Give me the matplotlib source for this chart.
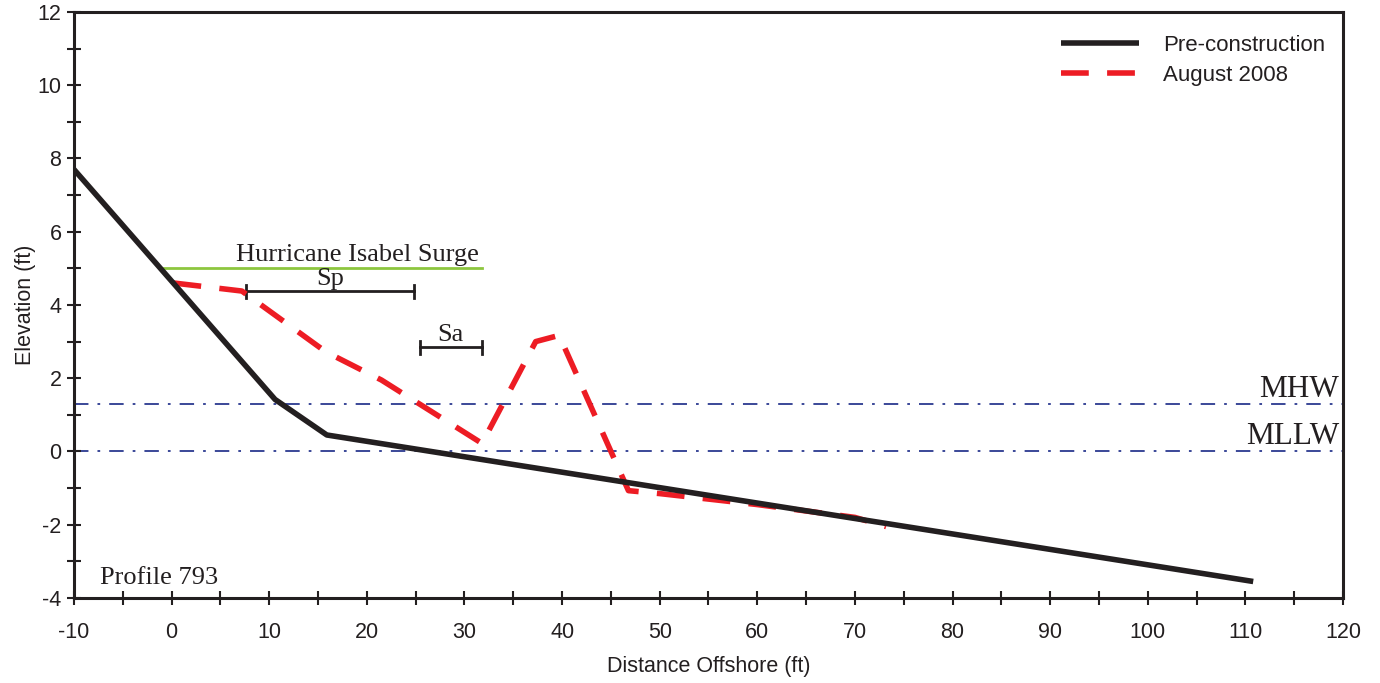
import numpy as np
import matplotlib
matplotlib.use("Agg")
import matplotlib.pyplot as plt
from matplotlib.ticker import MultipleLocator

plt.rcParams["font.family"] = "Liberation Sans"
plt.rcParams["axes.unicode_minus"] = False

# Pre-construction profile
pre_x = [-10, 10.6, 15.9, 110.8]
pre_y = [7.7, 1.42, 0.45, -3.55]

# August 2008 profile
aug_x = [0.2, 7.2, 15.8, 21.5, 31.8, 37.3, 39.7, 46.8, 50, 60, 70, 73.2]
aug_y = [4.6, 4.38, 2.72, 1.95, 0.22, 3.0, 3.17, -1.07, -1.15, -1.45, -1.8, -2.05]

# reference levels
surge_x = [-1.0, 31.8]
surge_y = 5.0
mhw = 1.3
mllw = 0.0

# sediment bars
sp_x = [7.6, 24.8]
sp_y = 4.37
sa_x = [25.4, 31.8]
sa_y = 2.84

fig = plt.figure(figsize=(13.8, 6.83), dpi=100)
ax = fig.add_axes([0.0536, 0.1245, 0.9196, 0.858])

blue = "#2b3990"
ax.axhline(mhw, color=blue, lw=1.3, ls=(0, (8, 5, 1.5, 5)), zorder=1)
ax.axhline(mllw, color=blue, lw=1.3, ls=(0, (8, 5, 1.5, 5)), zorder=1)

ax.plot(surge_x, [surge_y, surge_y], color="#8dc63f", lw=2, zorder=2)
ax.text(19.0, surge_y + 0.06, "Hurricane Isabel Surge",
        family="Liberation Serif", fontsize=19, color="#231f20", ha="center", va="bottom")

for bx, by, lab in [(sp_x, sp_y, "Sp"), (sa_x, sa_y, "Sa")]:
    ax.plot(bx, [by, by], color="#231f20", lw=2, zorder=3)
    for xx in bx:
        ax.plot([xx, xx], [by - 0.17, by + 0.17], color="#231f20", lw=2, zorder=3)
    ax.text(np.mean(bx), by + 0.05, lab, family="Liberation Serif", fontsize=19,
            color="#231f20", ha="center", va="bottom")

ax.plot(pre_x, pre_y, color="#231f20", lw=4, solid_capstyle="butt", zorder=5,
        label="Pre-construction")
ax.plot(aug_x, aug_y, color="#ed1c24", lw=4, ls=(0, (5, 3.3)), zorder=4,
        label="August 2008")

ax.text(119.6, mhw + 0.0, "MHW", family="Liberation Serif", fontsize=22.5,
        color="#231f20", ha="right", va="bottom")
ax.text(119.6, mllw + 0.0, "MLLW", family="Liberation Serif", fontsize=22.5,
        color="#231f20", ha="right", va="bottom")
ax.text(-7.3, -3.75, "Profile 793", family="Liberation Serif", fontsize=19,
        color="#231f20", ha="left", va="bottom")

ax.set_xlim(-10, 120)
ax.set_ylim(-4, 12)
ax.xaxis.set_major_locator(MultipleLocator(10))
ax.xaxis.set_minor_locator(MultipleLocator(5))
ax.yaxis.set_major_locator(MultipleLocator(2))
ax.yaxis.set_minor_locator(MultipleLocator(1))
ax.tick_params(which="both", direction="inout", width=1.5, color="#231f20",
               labelsize=15.5, labelcolor="#231f20", length=10)
ax.tick_params(axis="x", which="major", pad=12)
ax.tick_params(axis="y", which="major", pad=4)
for s in ax.spines.values():
    s.set_linewidth(2.2)
    s.set_color("#231f20")

ax.set_xlabel("Distance Offshore (ft)", fontsize=15.5, color="#231f20", labelpad=10)
ax.set_ylabel("Elevation (ft)", fontsize=15.5, color="#231f20", labelpad=1)

leg = ax.legend(loc="upper right", bbox_to_anchor=(1.002, 0.995), frameon=False,
                fontsize=16, handlelength=3.5, handletextpad=1.1, labelspacing=0.4)
for t in leg.get_texts():
    t.set_color("#231f20")

fig.savefig("out.png", dpi=100)
